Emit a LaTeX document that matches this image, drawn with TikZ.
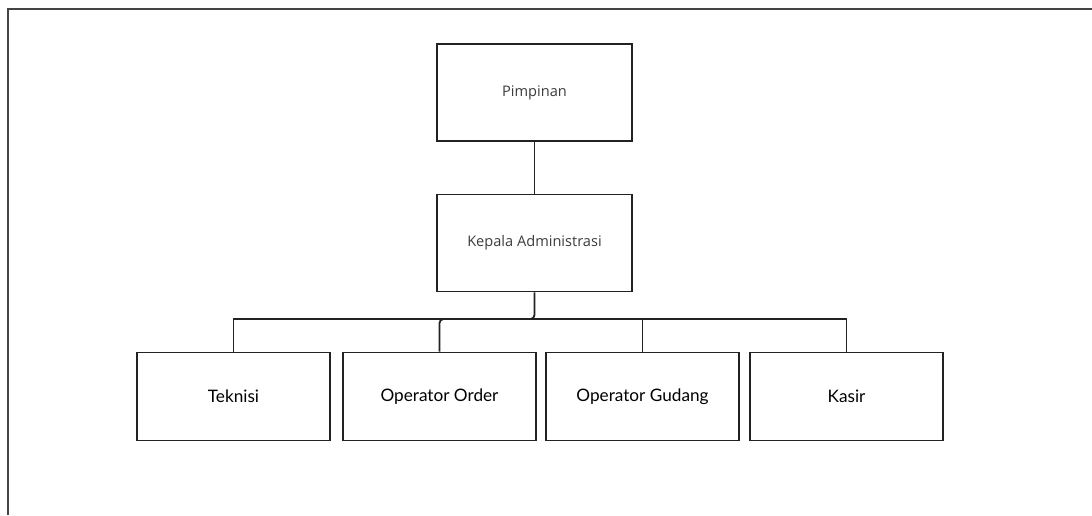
\documentclass[tikz,border=0pt]{standalone}
\usepackage{fontspec}
\setmainfont{Lato}
\newfontfamily\topfont{Open Sans}
\definecolor{edge}{HTML}{222222}
\definecolor{frame}{HTML}{444444}
\definecolor{toptext}{HTML}{3c3c3c}
\begin{document}
\begin{tikzpicture}[x=1pt,y=-1pt,
  unitbox/.style={draw=edge, line width=1.8pt, fill=white, inner sep=0pt},
  upper/.style={unitbox, minimum width=195pt, minimum height=97pt,
    font=\topfont\fontsize{14.6}{17}\selectfont, text=toptext},
  lower/.style={unitbox, minimum width=193pt, minimum height=88pt,
    font=\fontsize{17.2}{20}\selectfont, text=black},
  link/.style={draw=edge, line width=1.8pt}]
  \useasboundingbox (0,0) rectangle (1092,515);
  % page frame
  \draw[frame, line width=2pt] (8,515) -- (8,9) -- (1092,9);
  % boxes
  \node[upper] (pim) at (534.5,92.5) {Pimpinan};
  \node[upper] (kep) at (534.5,243) {Kepala Administrasi};
  \node[lower] (tek) at (233.5,396.5) {Teknisi};
  \node[lower] (ord) at (439.5,396.5) {Operator Order};
  \node[lower] (gud) at (642.5,396.5) {Operator Gudang};
  \node[lower] (kas) at (846.5,396.5) {Kasir};
  \coordinate (bus) at (0,319);
  % connectors
  \draw[link] (pim.south) -- (kep.north);
  \draw[link] (tek.north) -- (tek.north |- bus) -- (kas.north |- bus) -- (kas.north);
  \draw[link] (gud.north) -- (gud.north |- bus);
  \draw[link, rounded corners=4pt] (kep.south) -- (kep.south |- bus) -- (ord.north |- bus) -- (ord.north);
\end{tikzpicture}
\end{document}
